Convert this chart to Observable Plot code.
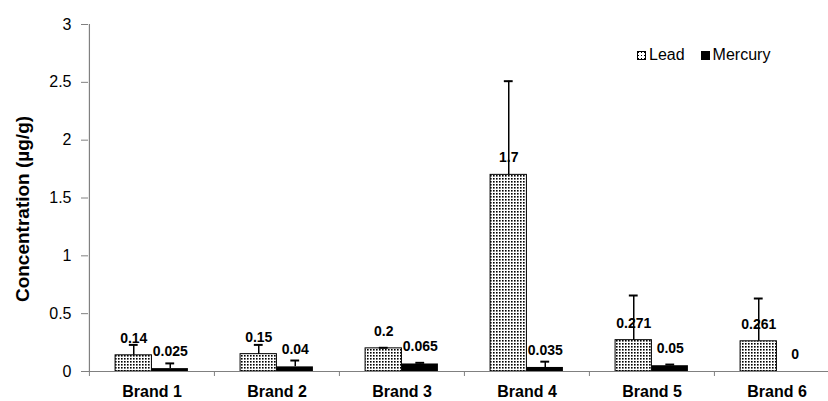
<!DOCTYPE html>
<html><head><meta charset="utf-8">
<script src="https://cdn.jsdelivr.net/npm/d3@7"></script>
<script src="https://cdn.jsdelivr.net/npm/@observablehq/plot@0.6"></script>
<style>
body{margin:0;background:#fff;font-family:"Liberation Sans",Arial,sans-serif;}
#wrap{position:relative;width:828px;height:401px;}
#legend{position:absolute;left:637px;top:47px;height:16px;display:flex;align-items:center;font-size:16px;line-height:16px;color:#000;}
#legend .sw{display:inline-block;width:9px;height:9px;margin-right:3px;box-sizing:border-box;}
#legend .lab{margin-right:16px;}
#ylabel{position:absolute;left:23px;top:209px;transform:translate(-50%,-50%) rotate(-90deg);white-space:nowrap;font-size:19px;font-weight:bold;line-height:20px;color:#000;}
</style></head><body>
<div id="wrap">
<div id="legend">
<svg class="sw" width="9" height="9" viewBox="0 0 9 9"><defs><pattern id="dotsLeg" width="3" height="3" patternUnits="userSpaceOnUse"><rect width="3" height="3" fill="#fff"/><rect x="1" y="1" width="1" height="1" fill="#000"/></pattern></defs><rect x="0.5" y="0.5" width="8" height="8" fill="url(#dotsLeg)" stroke="#000" stroke-width="1"/></svg><span class="lab">Lead</span>
<span class="sw" style="background:#000"></span><span>Mercury</span>
</div>
<div id="ylabel"></div>
</div>
<script>
const brands = ["Brand 1", "Brand 2", "Brand 3", "Brand 4", "Brand 5", "Brand 6"];
const leadValues = [0.14, 0.15, 0.2, 1.7, 0.271, 0.261];
const leadErrors = [0.09, 0.08, 0.005, 0.81, 0.386, 0.37];
const leadLabels = ["0.14", "0.15", "0.2", "1.7", "0.271", "0.261"];
const mercuryValues = [0.025, 0.04, 0.065, 0.035, 0.05, 0];
const mercuryErrors = [0.045, 0.055, 0.01, 0.05, 0.01, 0];
const mercuryLabels = ["0.025", "0.04", "0.065", "0.035", "0.05", "0"];
const yTicks = [0, 0.5, 1, 1.5, 2, 2.5, 3];
const yLabel = "Concentration (µg/g)";

document.getElementById("ylabel").textContent = yLabel;

const lead = brands.map((b, i) => ({brand: b, value: leadValues[i], err: leadErrors[i], label: leadLabels[i]}));
const mercury = brands.map((b, i) => ({brand: b, value: mercuryValues[i], err: mercuryErrors[i], label: mercuryLabels[i]}));

const xRange = [88, 839];
const bw = (xRange[1] - xRange[0]) / brands.length;
const barW = 36.5;
const capHalf = 4.5;
const font = "'Liberation Sans', Arial, sans-serif";

const defsMark = () => {
  const ns = "http://www.w3.org/2000/svg";
  const defs = document.createElementNS(ns, "defs");
  const p = document.createElementNS(ns, "pattern");
  p.setAttribute("id", "dots");
  p.setAttribute("width", "3");
  p.setAttribute("height", "3");
  p.setAttribute("patternUnits", "userSpaceOnUse");
  const bg = document.createElementNS(ns, "rect");
  bg.setAttribute("width", "3"); bg.setAttribute("height", "3"); bg.setAttribute("fill", "#fff");
  const dot = document.createElementNS(ns, "rect");
  dot.setAttribute("x", "1"); dot.setAttribute("y", "1");
  dot.setAttribute("width", "1.6"); dot.setAttribute("height", "1.6"); dot.setAttribute("fill", "#000");
  p.appendChild(bg); p.appendChild(dot); defs.appendChild(p);
  return defs;
};

const errTop = d => d.value + d.err;

const chart = Plot.plot({
  width: 828,
  height: 401,
  marginLeft: 88,
  marginRight: 0,
  marginTop: 24,
  marginBottom: 30,
  style: {fontFamily: font, color: "#000", background: "#fff"},
  x: {domain: brands, range: xRange, padding: 0},
  y: {domain: [0, 3], ticks: yTicks},
  marks: [
    defsMark,
    Plot.barY(lead, {x: "brand", y: "value", fill: "url(#dots)", stroke: "#000", strokeWidth: 1,
      insetLeft: bw / 2 - barW, insetRight: bw / 2}),
    Plot.barY(mercury, {x: "brand", y: "value", fill: "#000",
      insetLeft: bw / 2, insetRight: bw / 2 - barW}),
    Plot.ruleX(lead.filter(d => d.err > 0), {x: "brand", y1: "value", y2: errTop, dx: -barW / 2, stroke: "#000", strokeWidth: 1.5}),
    Plot.ruleX(mercury.filter(d => d.err > 0), {x: "brand", y1: "value", y2: errTop, dx: barW / 2, stroke: "#000", strokeWidth: 1.5}),
    Plot.tickY(lead.filter(d => d.err > 0), {x: "brand", y: errTop, dx: -barW / 2, insetLeft: bw / 2 - capHalf, insetRight: bw / 2 - capHalf, stroke: "#000", strokeWidth: 2}),
    Plot.tickY(mercury.filter(d => d.err > 0), {x: "brand", y: errTop, dx: barW / 2, insetLeft: bw / 2 - capHalf, insetRight: bw / 2 - capHalf, stroke: "#000", strokeWidth: 2}),
    Plot.ruleY([0], {stroke: "#808080", strokeWidth: 1.2}),
    Plot.ruleX([brands[0]], {x: d => d, dx: -bw / 2, y1: 0, y2: 3, stroke: "#808080", strokeWidth: 1.2}),
    Plot.text(lead, {x: "brand", y: "value", text: "label", dx: -barW / 2, dy: -17, fontSize: 14, fontWeight: "bold", lineAnchor: "middle", fill: "#000"}),
    Plot.text(mercury, {x: "brand", y: "value", text: "label", dx: barW / 2, dy: -17, fontSize: 14, fontWeight: "bold", lineAnchor: "middle", fill: "#000"}),
    Plot.axisY({ticks: yTicks, tickFormat: d => String(d), tickSize: 7, tickPadding: 10, fontSize: 16, label: null, stroke: "#808080"}),
    Plot.axisX({tickSize: 5, tickFormat: () => "", dx: -bw / 2, label: null, stroke: "#808080"}),
    Plot.axisX({tickSize: 0, tickPadding: 14, fontSize: 16, fontWeight: "bold", label: null})
  ]
});
document.getElementById("wrap").prepend(chart);
chart.style.position = "absolute";
chart.style.left = "0";
chart.style.top = "0";
</script>
</body></html>
